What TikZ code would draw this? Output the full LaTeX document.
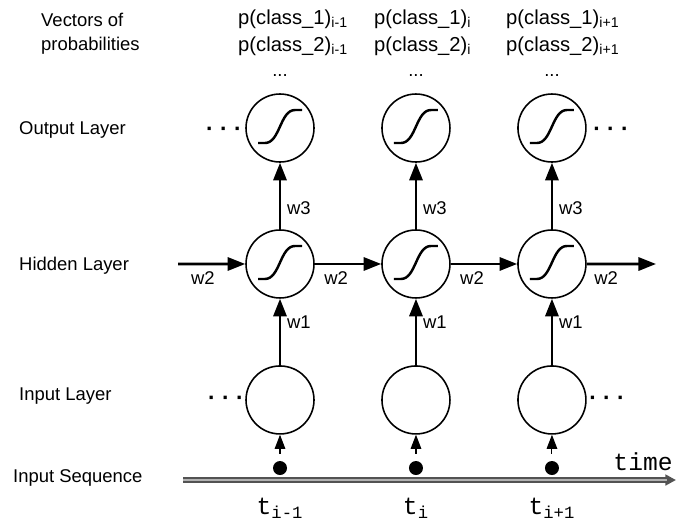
\documentclass[tikz,border=0pt]{standalone}
\usepackage{fontspec}
\setmainfont{Liberation Sans}
\setmonofont{Liberation Mono}
\usetikzlibrary{arrows.meta}

\begin{document}
\begin{tikzpicture}[x=0.02cm,y=-0.02cm,>={Triangle[length=10pt,width=7.5pt]},
  node distance=2.72cm,font=\fontsize{10.5}{13.6}\selectfont,
  main node/.style={circle,draw,line width=0.9pt,minimum size=1.36cm,inner sep=0pt},
  sig node/.style={main node,path picture={
    \draw[line width=1.4pt] ([xshift=-0.44cm,yshift=-0.3cm]path picture bounding box.center)
      -- ++(0.14cm,0cm) .. controls +(0.3cm,0cm) and +(-0.3cm,0cm) .. ++(0.6cm,0.66cm)
      -- ++(0.14cm,0cm);}},
  link/.style={->,line width=1.5pt},
  seq dot/.style={circle,fill,inner sep=0pt,minimum size=0.28cm},
  more/.style={inner sep=0pt,font=\bfseries\fontsize{13}{13}\selectfont},
  mono/.style={font=\ttfamily\fontsize{14}{14}\selectfont}]

  \useasboundingbox (0,0) rectangle (678,522);

  % layers
  \node[sig node] (o1) at (280,128) {};
  \node[sig node] (o2) [right of=o1] {};
  \node[sig node] (o3) [right of=o2] {};
  \node[sig node] (h1) [below of=o1] {};
  \node[sig node] (h2) [right of=h1] {};
  \node[sig node] (h3) [right of=h2] {};
  \node[main node] (i1) [below of=h1] {};
  \node[main node] (i2) [right of=i1] {};
  \node[main node] (i3) [right of=i2] {};

  % row names
  \node[anchor=west,align=left] (vec) at (35,34) {Vectors of\\probabilities};
  \node[anchor=west] (ol) at (13,130) {Output Layer};
  \node[anchor=west] (hl) at (13,266) {Hidden Layer};
  \node[anchor=west] (il) at (13,396) {Input Layer};
  \node[anchor=west] (sl) at (7,478) {Input Sequence};

  % probabilities
  \node[anchor=west,align=left,font=\fontsize{11.5}{15.3}\selectfont] (p1) at (232,33)
    {p(class\_1)\textsubscript{i-1}\\p(class\_2)\textsubscript{i-1}};
  \node[anchor=west,align=left,font=\fontsize{11.5}{15.3}\selectfont] (p2) at (368,33)
    {p(class\_1)\textsubscript{i}\\p(class\_2)\textsubscript{i}};
  \node[anchor=west,align=left,font=\fontsize{11.5}{15.3}\selectfont] (p3) at (500,33)
    {p(class\_1)\textsubscript{i+1}\\p(class\_2)\textsubscript{i+1}};
  \node (e1) at (o1 |- 0,76) {...};
  \node (e2) at (o2 |- 0,76) {...};
  \node (e3) at (o3 |- 0,76) {...};

  % continuation dots
  \node[more] (c1) at (224,132) {· · ·};
  \node[more] (c2) at (611,132) {· · ·};
  \node[more] (c3) at (226,401) {· · ·};
  \node[more] (c4) at (607,401) {· · ·};

  % input sequence
  \coordinate (ts) at (183,480);
  \coordinate (te) at (676,480);
  \draw[-{Triangle[length=6pt,width=6pt]},line width=3.2pt,gray!65!black] (ts) -- (te);
  \draw[line width=1.6pt,gray!60,shorten >=5pt] (ts) -- (te);
  \node[mono] (time) at (643,462) {time};
  \node[seq dot] (d1) at (i1 |- 0,468) {};
  \node[seq dot] (d2) at (i2 |- 0,468) {};
  \node[seq dot] (d3) at (i3 |- 0,468) {};
  \node[mono] (t1) at (i1 |- 0,508) {t\textsubscript{i-1}};
  \node[mono] (t2) at (i2 |- 0,508) {t\textsubscript{i}};
  \node[mono] (t3) at (i3 |- 0,508) {t\textsubscript{i+1}};

  \coordinate (in) at (178,264);
  \coordinate (out) at (656,264);

  \path[-{Triangle[length=8pt,width=6pt]},line width=0.6pt,shorten <=4pt]
    (d1) edge (i1)
    (d2) edge (i2)
    (d3) edge (i3);

  \path[link]
    (i1) edge node[right,pos=0.65] {w1} (h1)
    (i2) edge node[right,pos=0.65] {w1} (h2)
    (i3) edge node[right,pos=0.65] {w1} (h3)
    (h1) edge node[right,pos=0.32] {w3} (o1)
    (h2) edge node[right,pos=0.32] {w3} (o2)
    (h3) edge node[right,pos=0.32] {w3} (o3)
    (in) edge node[below,pos=0.37] {w2} (h1)
    (h1) edge node[below,pos=0.32] {w2} (h2)
    (h2) edge node[below,pos=0.32] {w2} (h3)
    (h3) edge node[below,pos=0.28] {w2} (out);
\end{tikzpicture}
\end{document}
